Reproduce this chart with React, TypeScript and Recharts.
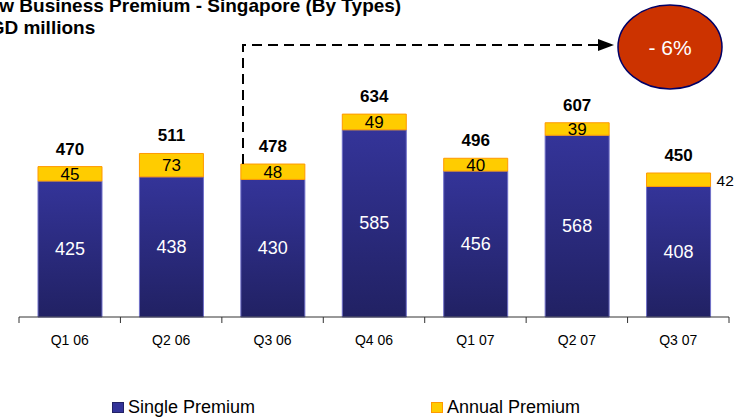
import React from 'react';
import { BarChart, Bar, XAxis, YAxis, LabelList, Legend } from 'recharts';

const categories = ['Q1 06', 'Q2 06', 'Q3 06', 'Q4 06', 'Q1 07', 'Q2 07', 'Q3 07'];
const singlePremium = [425, 438, 430, 585, 456, 568, 408];
const annualPremium = [45, 73, 48, 49, 40, 39, 42];
const totals = [470, 511, 478, 634, 496, 607, 450];

const data = categories.map((c, i) => ({
  name: c,
  single: singlePremium[i],
  annual: annualPremium[i],
  total: totals[i],
}));

const W = 734;
const H = 419;
const M = { top: 93, right: 5, bottom: 72, left: 19 };
const BAND = (W - M.left - M.right) / categories.length;
const FONT = 'Liberation Sans, Arial, sans-serif';

const Tick = (props: any) => {
  const { x, y, payload, index } = props;
  const last = index === categories.length - 1;
  return (
    <g>
      <line x1={x - BAND / 2} x2={x - BAND / 2} y1={y} y2={y + 6} stroke="#333" strokeWidth={1} />
      {last && <line x1={x + BAND / 2} x2={x + BAND / 2} y1={y} y2={y + 6} stroke="#333" strokeWidth={1} />}
      <text x={x} y={y + 28} textAnchor="middle" fontFamily={FONT} fontSize={14} fill="#000">
        {payload.value}
      </text>
    </g>
  );
};

const SingleLabel = (props: any) => {
  const { x, y, width, height, value } = props;
  return (
    <text x={x + width / 2} y={y + height / 2 + 6} textAnchor="middle" fontFamily={FONT} fontSize={18} fill="#fff">
      {value}
    </text>
  );
};

const AnnualLabel = (props: any) => {
  const { x, y, width, height, value, index } = props;
  const outside = index === categories.length - 1;
  return (
    <text
      x={outside ? x + width + 6 : x + width / 2}
      y={y + height / 2 + 6}
      textAnchor={outside ? 'start' : 'middle'}
      fontFamily={FONT}
      fontSize={outside ? 15.5 : 17}
      fill="#000"
    >
      {value}
    </text>
  );
};

const TotalLabel = (props: any) => {
  const { x, y, width, value } = props;
  return (
    <text x={x + width / 2} y={y - 12} textAnchor="middle" fontFamily={FONT} fontSize={17} fontWeight="bold" fill="#000">
      {value}
    </text>
  );
};

const LegendContent = () => (
  <div style={{ position: 'relative', width: W, height: 22, fontFamily: FONT, fontSize: 18, color: '#000' }}>
    <div style={{ position: 'absolute', left: 112, top: 4, width: 10, height: 9, background: '#333399', border: '1px solid #222266' }} />
    <div style={{ position: 'absolute', left: 128, top: -2, lineHeight: '22px', whiteSpace: 'nowrap' }}>Single Premium</div>
    <div style={{ position: 'absolute', left: 431, top: 4, width: 10, height: 9, background: '#FFCC00', border: '1px solid #FF9900' }} />
    <div style={{ position: 'absolute', left: 447, top: -2, lineHeight: '22px', whiteSpace: 'nowrap' }}>Annual Premium</div>
  </div>
);

export default function App() {
  return (
    <div style={{ position: 'absolute', left: 0, top: 0, width: W, height: H, background: '#fff', overflow: 'hidden' }}>
      <BarChart width={W} height={H} data={data} margin={M} barSize={64} style={{ overflow: 'visible' }}>
        <defs>
          <linearGradient id="blueGrad" x1="0" y1="0" x2="0" y2="1">
            <stop offset="0%" stopColor="#343499" />
            <stop offset="100%" stopColor="#212163" />
          </linearGradient>
        </defs>
        <YAxis hide domain={[0, 700]} />
        <XAxis
          dataKey="name"
          axisLine={{ stroke: '#333', strokeWidth: 1 }}
          tickLine={false}
          tickSize={0}
          tickMargin={0}
          height={30}
          interval={0}
          tick={<Tick />}
        />
        <Legend
          verticalAlign="middle"
          align="center"
          layout="horizontal"
          wrapperStyle={{ position: 'absolute', left: 0, top: 398, width: W }}
          content={<LegendContent />}
        />
        <Bar dataKey="single" stackId="a" fill="url(#blueGrad)" stroke="#7070c8" strokeWidth={1} isAnimationActive={false}>
          <LabelList dataKey="single" content={<SingleLabel />} />
        </Bar>
        <Bar dataKey="annual" stackId="a" fill="#FFCC00" stroke="#FF9900" strokeWidth={1} isAnimationActive={false}>
          <LabelList dataKey="annual" content={<AnnualLabel />} />
          <LabelList dataKey="total" content={<TotalLabel />} />
        </Bar>
      </BarChart>
      <svg width={W} height={H} style={{ position: 'absolute', left: 0, top: 0, pointerEvents: 'none' }}>
        <text x={-25} y={12} fontFamily={FONT} fontSize={19} fontWeight="bold" fill="#000">
          New Business Premium - Singapore (By Types)
        </text>
        <text x={-23} y={34} fontFamily={FONT} fontSize={19} fontWeight="bold" fill="#000">
          SGD millions
        </text>
        <path d="M 243 164 V 45 H 600" fill="none" stroke="#000" strokeWidth={2} strokeDasharray="10 6" />
        <polygon points="598,39 614,45 598,51" fill="#000" />
        <ellipse cx={670} cy={47} rx={52} ry={42} fill="#CC3300" stroke="#000066" strokeWidth={1.5} />
        <text x={670} y={55} textAnchor="middle" fontFamily={FONT} fontSize={21} fill="#fff">
          - 6%
        </text>
      </svg>
    </div>
  );
}
